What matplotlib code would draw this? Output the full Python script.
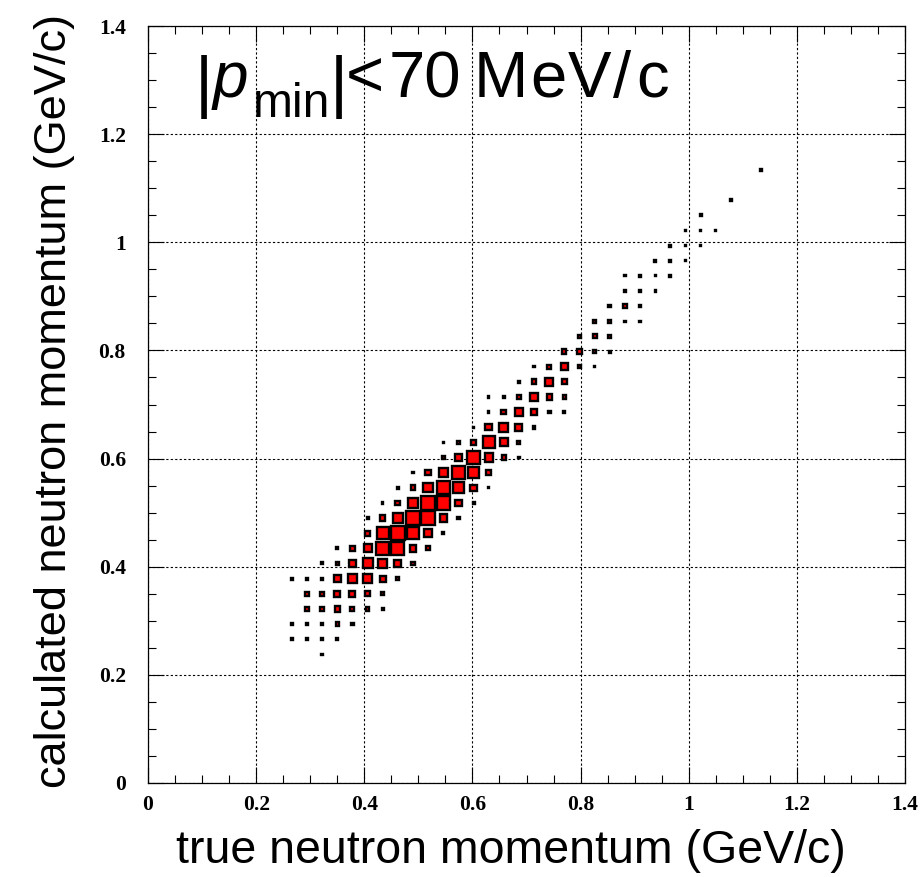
import numpy as np
import matplotlib
matplotlib.use('Agg')
import matplotlib.pyplot as plt
from matplotlib.patches import Rectangle
from matplotlib.collections import PatchCollection
from matplotlib.ticker import MultipleLocator

# 2D histogram, 50 x 50 bins over 0..1.4 GeV/c
N_BINS = 50
P_MAX = 1.4

# one entry per filled row of calculated momentum:
# row bin index, first filled true-momentum bin, contents of that row
calc_bins = [8, 9, 10, 11, 12, 13, 14, 15, 16, 17, 18, 19, 20, 21, 22, 23, 24,
             25, 26, 27, 28, 29, 30, 31, 32, 33, 34, 35, 36, 37, 38, 40]
first_true_bin = [11, 9, 9, 10, 10, 9, 11, 12, 14, 14, 15, 16, 17, 19, 19, 21, 22,
                  22, 24, 25, 27, 28, 29, 30, 31, 31, 33, 34, 35, 36, 38, 40]
contents = [
    [4],
    [4, 6, 6, 6],
    [4, 6, 8, 10, 8],
    [12, 12, 16, 12, 10, 6],
    [12, 12, 18, 18, 14, 10],
    [6, 6, 6, 22, 26, 28, 18, 8],
    [6, 10, 22, 30, 28, 20, 10],
    [6, 16, 24, 40, 38, 20, 12],
    [14, 36, 41, 34, 24, 6],
    [6, 16, 28, 42, 42, 22, 8],
    [4, 14, 28, 42, 40, 20, 6],
    [6, 14, 28, 40, 32, 18, 4],
    [4, 16, 28, 40, 34, 16],
    [8, 22, 38, 24, 12, 4],
    [4, 10, 16, 35, 24, 9],
    [4, 19, 28, 21, 8],
    [4, 14, 24, 16, 8, 6],
    [4, 6, 14, 26, 16, 10],
    [6, 14, 24, 14],
    [4, 12, 19, 10, 4],
    [12, 17, 10, 6],
    [8, 12, 9],
    [8, 10, 4, 4],
    [8, 10, 6],
    [6, 6, 4],
    [4, 6, 4, 6],
    [6, 6, 4],
    [6, 4, 2],
    [4, 4, 4],
    [6],
    [6],
    [5],
]

tick_labels = ['0', '0.2', '0.4', '0.6', '0.8', '1', '1.2', '1.4']
xlabel = 'true neutron momentum (GeV/c)'
ylabel = 'calculated neutron momentum (GeV/c)'

W, H = 921, 877
bin_w = P_MAX / N_BINS
xs, ys, zs = [], [], []
for j, k0, row in zip(calc_bins, first_true_bin, contents):
    for i, c in enumerate(row):
        xs.append((k0 + i + 0.5) * bin_w)
        ys.append((j + 0.5) * bin_w)
        zs.append(c)
xs = np.array(xs)
ys = np.array(ys)
zs = np.array(zs, dtype=float)

fig = plt.figure(figsize=(W / 100, H / 100), dpi=100)
ax = fig.add_axes([148 / W, 1 - 783 / H, 757 / W, 757 / H])

# box size scales with the bin content, biggest box ~ fills the cell
side = 0.93 * bin_w * zs / zs.max()
boxes = [Rectangle((x - s / 2, y - s / 2), s, s) for x, y, s in zip(xs, ys, side)]
pc = PatchCollection(boxes, facecolor='red', edgecolor='black', linewidth=1.7,
                     joinstyle='miter', zorder=3)
ax.add_collection(pc)

ax.set_xlim(0, P_MAX)
ax.set_ylim(0, P_MAX)
ax.set_xticks(np.arange(0, 1.41, 0.2))
ax.set_yticks(np.arange(0, 1.41, 0.2))
ax.set_xticklabels(tick_labels)
ax.set_yticklabels(tick_labels)
ax.xaxis.set_minor_locator(MultipleLocator(0.05))
ax.yaxis.set_minor_locator(MultipleLocator(0.05))

ax.tick_params(which='both', direction='in', top=True, right=True, width=0.8)
ax.tick_params(which='major', length=11.5)
ax.tick_params(which='minor', length=5.8)
ax.tick_params(axis='x', which='major', pad=9)
ax.tick_params(axis='y', which='major', pad=16)
for lab in ax.get_xticklabels() + ax.get_yticklabels():
    lab.set_fontfamily('Liberation Serif')
    lab.set_fontweight('bold')
    lab.set_fontsize(15.5)

for sp in ax.spines.values():
    sp.set_linewidth(0.9)

ax.grid(True, which='major', color='black', linestyle=(0, (2, 2)), linewidth=0.8, zorder=1)
ax.set_axisbelow(True)


def put(s, x, y, size, style='normal'):
    # x, y in pixels from the top-left corner, y is the baseline
    fig.text(x / W, 1 - y / H, s, fontsize=size, family='Liberation Sans',
             style=style, ha='left', va='baseline')


# |p_min|<70 MeV/c, set piece by piece (subscript kept large)
put('|', 195, 105, 50)
put('p', 213, 97, 46, 'italic')
put('min', 253, 117, 34.5)
put('|', 330, 105, 50)
put('<', 346, 97, 47)
put('70', 389, 97, 47)
for ch, x in zip('MeV/c', [474, 530, 568, 613, 636]):
    put(ch, x, 97, 47)

fig.text(511 / W, 1 - 863 / H, xlabel, fontsize=33.5, family='Liberation Sans',
         ha='center', va='baseline')
fig.text(66 / W, 1 - 401 / H, ylabel, fontsize=32.5, family='Liberation Sans',
         rotation=90, rotation_mode='anchor', ha='center', va='baseline')

fig.savefig('out.png', dpi=100)
